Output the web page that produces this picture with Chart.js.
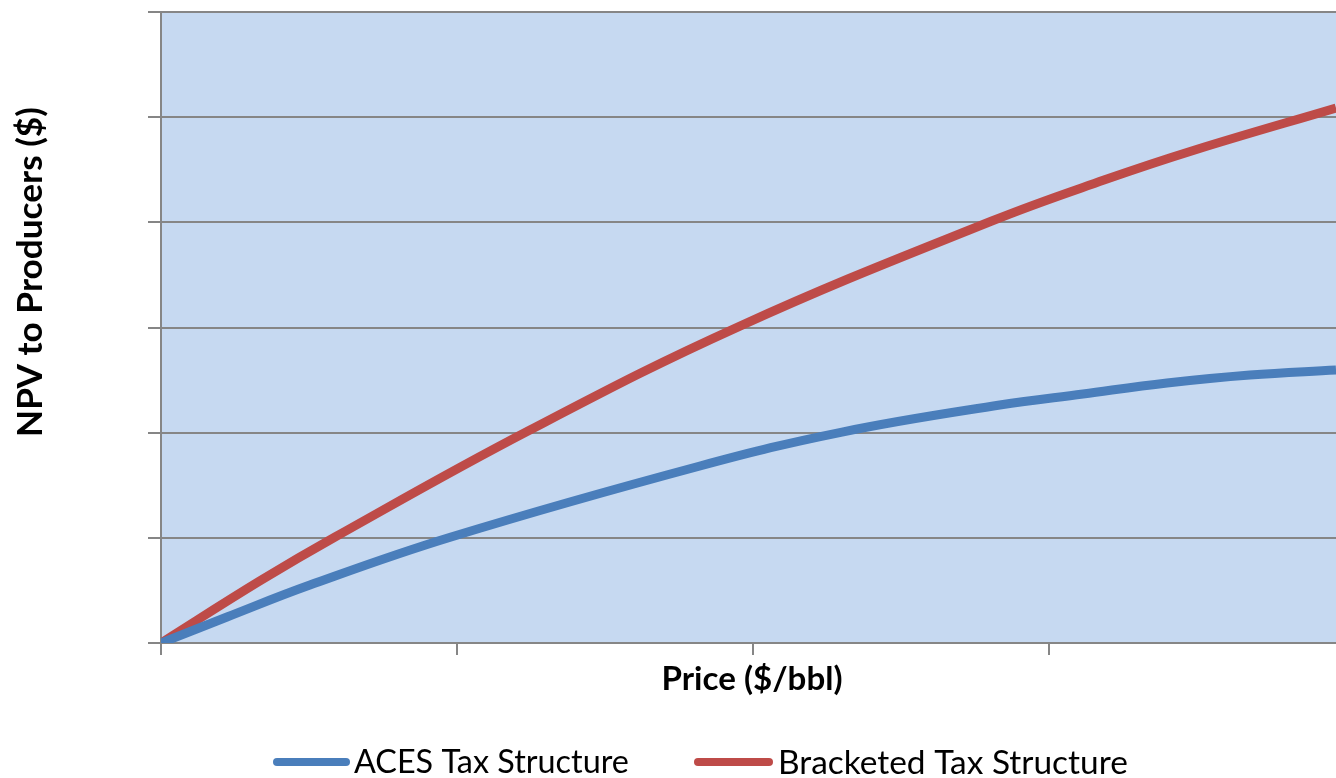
<!DOCTYPE html>
<html>
<head>
<meta charset="utf-8">
<script src="https://cdn.jsdelivr.net/npm/chart.js@4/dist/chart.umd.min.js"></script>
<style>
html,body{margin:0;padding:0;background:#ffffff;overflow:hidden}
#wrap{width:1336px;height:778px;position:relative}
canvas{display:block}
</style>
</head>
<body>
<div id="wrap"><canvas id="c" width="1336" height="778"></canvas></div>
<script>
// ---- data (x in axis-tick units, y in gridline units) ----
const seriesNames = ['ACES Tax Structure', 'Bracketed Tax Structure'];
const acesX = [0, 0.223, 0.503, 0.980, 1.821, 2.301, 2.834, 3.115, 3.399, 3.679, 3.970];
const acesY = [0, 0.247, 0.551, 1.008, 1.683, 2.006, 2.263, 2.368, 2.472, 2.548, 2.596];
const bracketX = [0, 0.334, 0.588, 1.240, 1.956, 2.807, 3.186, 3.493, 3.970];
const bracketY = [0, 0.590, 1.008, 2.016, 3.014, 4.013, 4.402, 4.688, 5.087];
const xTicks = [0, 1, 2, 3];
const yTicks = [0, 1, 2, 3, 4, 5, 6];
const xTitle = 'Price ($/bbl)';
const yTitle = 'NPV to Producers ($)';

const COLORS = ['#4A7EBB', '#BE4B48'];
const GRID = '#868686';
const PLOT_BG = '#C6D9F1';
const FONT = 'Lato, "Open Sans", sans-serif';

function pts(xs, ys){ return xs.map((x,i)=>({x:x, y:ys[i]})); }

function fitSize(ctx, text, weight, width){
  ctx.font = weight + ' 100px ' + FONT;
  const m = ctx.measureText(text).width;
  return 100 * width / m;
}

const plotBg = {
  id:'plotBg',
  beforeDraw(chart){
    const {ctx, chartArea:a} = chart;
    ctx.save();
    ctx.fillStyle = PLOT_BG;
    ctx.fillRect(a.left, a.top, a.right - a.left, a.bottom - a.top);
    ctx.restore();
  }
};

const texts = {
  id:'texts',
  afterDraw(chart){
    const ctx = chart.ctx;
    ctx.save();
    ctx.fillStyle = '#000';
    ctx.textAlign = 'center';
    ctx.textBaseline = 'middle';
    // x title
    let s = fitSize(ctx, xTitle, 'bold', 181);
    ctx.font = 'bold ' + s.toFixed(2) + 'px ' + FONT;
    ctx.fillText(xTitle, 752, 679);
    // y title
    s = fitSize(ctx, yTitle, 'bold', 330);
    ctx.font = 'bold ' + s.toFixed(2) + 'px ' + FONT;
    ctx.save();
    ctx.translate(31, 272);
    ctx.rotate(-Math.PI/2);
    ctx.fillText(yTitle, 0, 0);
    ctx.restore();
    // legend
    const items = [
      {lx0:277, lx1:346, tx:354, tw:275},
      {lx0:698, lx1:769, tx:778, tw:350}
    ];
    chart.data.datasets.forEach((ds, i) => {
      const it = items[i];
      ctx.strokeStyle = ds.borderColor;
      ctx.lineWidth = 8;
      ctx.lineCap = 'round';
      ctx.beginPath();
      ctx.moveTo(it.lx0, 762);
      ctx.lineTo(it.lx1, 762);
      ctx.stroke();
      const fs = fitSize(ctx, ds.label, 'normal', it.tw);
      ctx.font = 'normal ' + fs.toFixed(2) + 'px ' + FONT;
      ctx.textAlign = 'left';
      ctx.fillText(ds.label, it.tx, 763);
    });
    ctx.restore();
  }
};

new Chart(document.getElementById('c'), {
  type:'line',
  data:{
    datasets:[
      {label:seriesNames[0], data:pts(acesX, acesY), borderColor:COLORS[0], borderWidth:9, pointRadius:0, tension:0.4, fill:false, borderCapStyle:'butt'},
      {label:seriesNames[1], data:pts(bracketX, bracketY), borderColor:COLORS[1], borderWidth:9, pointRadius:0, tension:0.4, fill:false, borderCapStyle:'butt'}
    ]
  },
  options:{
    responsive:false,
    animation:false,
    devicePixelRatio:1,
    layout:{padding:{top:12, right:0, bottom:0, left:0}},
    plugins:{legend:{display:false}, tooltip:{enabled:false}, title:{display:false}},
    scales:{
      x:{
        type:'linear', min:0, max:3.97,
        ticks:{display:false, stepSize:1},
        grid:{drawOnChartArea:false, drawTicks:true, tickLength:12, color:GRID, lineWidth:2},
        border:{color:GRID, width:2},
        afterBuildTicks(s){ s.ticks = xTicks.map(v=>({value:v})); },
        afterFit(s){ s.height = 135; }
      },
      y:{
        type:'linear', min:0, max:6,
        ticks:{display:false, stepSize:1},
        grid:{drawTicks:true, tickLength:13, color:GRID, lineWidth:2},
        border:{color:GRID, width:2},
        afterBuildTicks(s){ s.ticks = yTicks.map(v=>({value:v})); },
        afterFit(s){ s.width = 161; }
      }
    }
  },
  plugins:[plotBg, texts]
});
</script>
</body>
</html>
